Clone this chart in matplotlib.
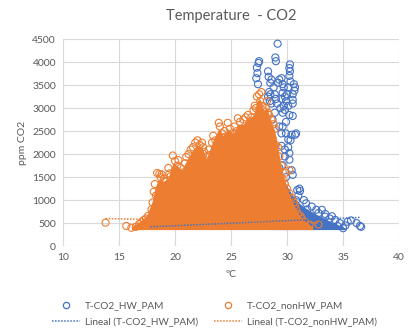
import numpy as np
import matplotlib.pyplot as plt

plt.rcParams['font.family'] = ['Lato', 'DejaVu Sans']

# upper edge of the solid orange mass (nonHW)
orange_env_t = [16.1, 16.5, 17.0, 17.5, 18.0, 18.2, 18.5, 19.0, 19.4, 19.8, 20.2, 20.6, 21.0,
                21.5, 21.9, 22.4, 22.8, 23.4, 23.9, 24.3, 24.7, 25.2, 25.6, 26.1, 26.5, 27.0,
                27.3, 27.6, 27.9, 28.2, 28.6, 28.9, 29.2, 29.5, 30.0, 30.5, 31.0, 31.5, 32.0, 32.3]
orange_env_hi = [420, 480, 560, 680, 1000, 1250, 1450, 1400, 1500, 1800, 1750, 1650, 1850,
                 2050, 2200, 2150, 1900, 2300, 2550, 2400, 2550, 2450, 2650, 2650, 2750, 2850,
                 3150, 3200, 2950, 3000, 2700, 2500, 2100, 1700, 1250, 950, 700, 560, 470, 420]

# upper edge of the visible solid blue mass (HW)
blue_env_t = [28.5, 29.0, 29.5, 30.0, 30.5, 31.0, 31.5, 32.0, 32.5, 33.0, 33.5, 34.0, 34.5, 35.0, 35.2]
blue_env_hi = [1900, 1700, 1500, 1300, 1100, 950, 850, 780, 700, 650, 580, 520, 470, 420, 380]
base_co2 = 360

# fringe points, orange series
orange_t = [13.8, 15.65, 16.1, 16.5, 17.2, 17.4, 17.6, 18.1, 18.0, 18.3, 18.4, 18.6, 18.8, 18.7,
            19.0, 19.2, 18.9, 19.5, 19.4, 19.8, 20.0, 20.3, 20.2, 20.5, 20.7, 21.0, 21.2, 21.4,
            21.6, 21.8, 22.0, 22.2, 22.4, 22.6, 22.8, 23.0, 23.3, 23.4, 23.6, 23.9, 24.0, 24.2,
            24.4, 24.7, 24.9, 25.1, 25.3, 25.6, 25.8, 26.1, 26.3, 26.5, 26.8, 27.0, 27.1, 27.3,
            27.5, 27.6, 27.8, 27.9, 28.1, 28.2, 28.0, 28.4, 28.6, 28.8, 28.9, 28.5, 28.7, 29.0,
            29.2, 28.9, 29.3, 29.5, 29.1, 29.6, 29.8, 30.0, 30.2, 30.4, 30.6, 30.8, 31.0, 31.3,
            31.6, 32.0, 32.8, 29.9, 30.2, 16.8, 17.0, 17.9, 18.2, 19.1, 19.6, 20.9, 22.5, 23.1,
            24.5, 25.5, 26.7, 27.2, 27.7, 28.3, 30.7, 31.2]
orange_co2 = [510, 440, 400, 420, 570, 600, 660, 1180, 950, 1100, 1590, 1570, 1560, 1500,
              1470, 1400, 1300, 1580, 1700, 1970, 1850, 1870, 1750, 1700, 1600, 1940, 2000, 2100,
              2150, 2250, 2300, 2200, 2250, 2050, 1950, 2100, 2250, 2400, 2300, 2680, 2600, 2450,
              2500, 2680, 2550, 2450, 2600, 2780, 2700, 2750, 2800, 2850, 2800, 2950, 3050, 3250,
              3300, 3150, 3050, 2950, 3000, 3150, 2800, 2850, 2750, 2650, 2550, 2500, 2350, 2200,
              2150, 2000, 1950, 1750, 1650, 1450, 1350, 1250, 1150, 1050, 950, 800, 700, 600,
              530, 470, 470, 1600, 1650, 480, 520, 800, 1350, 1420, 1520, 1800, 2150, 1980,
              2380, 2500, 2700, 3000, 3350, 2900, 880, 650]

# fringe points, blue series
blue_t = [29.15, 28.95, 29.0, 27.5, 27.45, 27.3, 27.35, 27.25, 27.4, 28.3, 28.35, 28.5, 28.6,
          28.4, 28.5, 28.3, 28.45, 28.6, 28.8, 28.9, 29.0, 29.1, 29.3, 29.2, 29.5, 29.6, 29.7,
          29.6, 29.8, 29.5, 29.9, 29.7, 29.4, 29.8, 29.6, 30.25, 30.2, 30.25, 30.2, 30.3, 30.6,
          30.7, 30.65, 30.5, 30.5, 30.5, 30.1, 30.0, 30.1, 30.5, 30.2, 29.9, 29.6, 29.3, 29.5,
          29.9, 30.4, 30.3, 30.1, 30.1, 29.5, 29.8, 30.2, 30.2, 29.8, 29.6, 30.4, 30.5, 29.9,
          31.1, 31.15, 30.9, 31.0, 31.5, 31.7, 32.2, 32.6, 33.1, 33.4, 33.4, 33.8, 34.3, 34.7,
          35.0, 35.4, 35.7, 36.2, 36.5, 36.6, 34.0, 32.8, 31.8, 30.8, 35.2, 34.5, 28.7, 28.9,
          28.1, 28.4, 28.8, 29.3, 30.7, 30.8, 27.5]
blue_co2 = [4400, 4100, 4020, 4020, 3980, 3880, 3760, 3650, 3520, 3800, 3680, 3550, 3620,
            3350, 3300, 3250, 3150, 3100, 3450, 3300, 3200, 3100, 3620, 3550, 3650, 3520, 3450,
            3330, 3250, 3200, 3150, 3050, 3000, 2960, 2900, 3950, 3870, 3800, 3700, 3580, 3520,
            3450, 3380, 3300, 3180, 3100, 3450, 3300, 3050, 2830, 2850, 2700, 2600, 2600, 2450,
            2450, 2420, 2300, 2320, 2150, 2180, 2100, 2020, 1880, 1950, 1760, 1650, 1550, 1500,
            1250, 1200, 1220, 1100, 1000, 930, 860, 790, 790, 700, 640, 600, 570, 500,
            390, 530, 560, 500, 440, 420, 650, 720, 800, 1000, 450, 440, 2750, 2900,
            2650, 2200, 1850, 1700, 2420, 2450, 2400]

# linear trend lines (end points)
trend_hw_t = [17.8, 36.5]
trend_hw_co2 = [420, 625]
trend_non_t = [13.8, 32.8]
trend_non_co2 = [600, 505]

blue = '#4472C4'
orange = '#ED7D31'
grey = '#595959'

fig = plt.figure(figsize=(4.09, 3.34), dpi=100)
ax = fig.add_axes([0.154, 0.263, 0.822, 0.62])

ax.fill_between(blue_env_t, base_co2, blue_env_hi, color=blue, lw=0, zorder=2)
ax.scatter(blue_t, blue_co2, s=26, facecolors='none', edgecolors=blue, linewidths=0.8, zorder=3)
ax.fill_between(orange_env_t, base_co2, orange_env_hi, color=orange, lw=0, zorder=4)
ax.scatter(orange_t, orange_co2, s=26, facecolors='none', edgecolors=orange, linewidths=0.8, zorder=5)

ax.plot(trend_hw_t, trend_hw_co2, ls=(0, (1, 1)), color=blue, lw=1.1, zorder=6)
ax.plot(trend_non_t, trend_non_co2, ls=(0, (1, 1)), color=orange, lw=1.1, zorder=6)

ax.set_xlim(10, 40)
ax.set_ylim(0, 4500)
ax.set_xticks(range(10, 41, 5))
ax.set_yticks(range(0, 4501, 500))
ax.grid(True, color='#d9d9d9', lw=0.8)
ax.set_axisbelow(True)
for s in ax.spines.values():
    s.set_visible(False)
ax.tick_params(length=0, labelsize=7.5, labelcolor=grey, pad=5)

ax.set_title('Temperature  - CO2', fontsize=10.5, color=grey, pad=14)
ax.set_xlabel('ºC', fontsize=7.5, color=grey, labelpad=6)
ax.set_ylabel('ppm CO2', fontsize=7.5, color=grey, labelpad=4)

# legend
h1 = plt.Line2D([], [], ls='none', marker='o', mfc='none', mec=blue, ms=4.5, mew=0.9)
h2 = plt.Line2D([], [], ls=(0, (1, 1)), color=blue, lw=1.1)
h3 = plt.Line2D([], [], ls='none', marker='o', mfc='none', mec=orange, ms=4.5, mew=0.9)
h4 = plt.Line2D([], [], ls=(0, (1, 1)), color=orange, lw=1.1)
leg = fig.legend([h1, h2, h3, h4],
                 ['T-CO2_HW_PAM', 'Lineal (T-CO2_HW_PAM)',
                  'T-CO2_nonHW_PAM', 'Lineal (T-CO2_nonHW_PAM)'],
                 ncol=2, loc='lower left', bbox_to_anchor=(0.105, -0.005), frameon=False,
                 fontsize=7.2, handlelength=2.8, columnspacing=1.6, labelspacing=0.7,
                 handletextpad=0.5)
for t in leg.get_texts():
    t.set_color(grey)

fig.savefig('out.png', dpi=100)
